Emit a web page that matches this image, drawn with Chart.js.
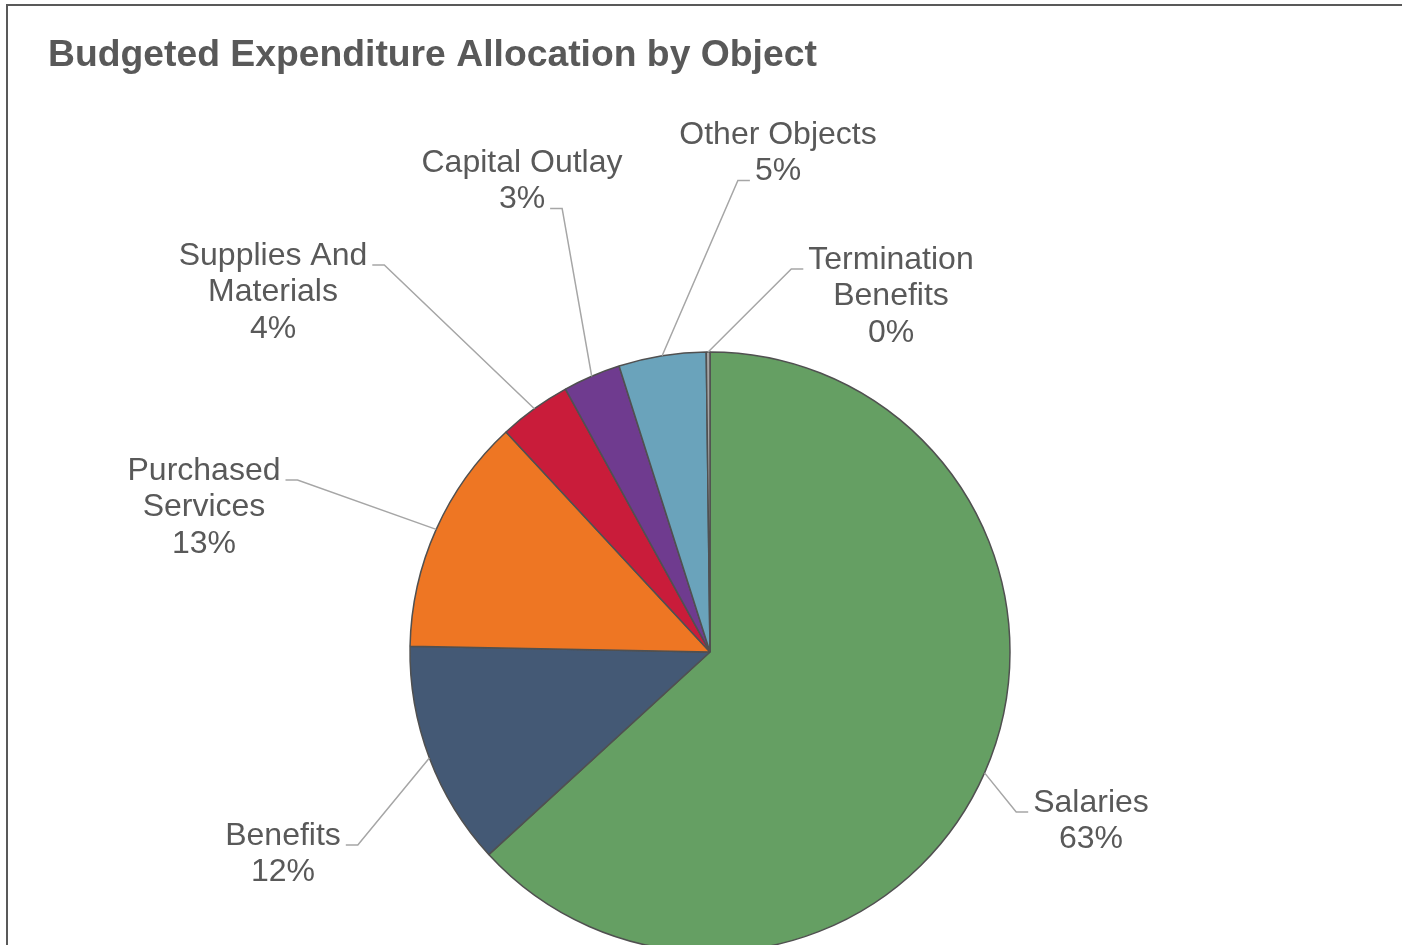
<!DOCTYPE html>
<html>
<head>
<meta charset="utf-8">
<title>Budgeted Expenditure Allocation by Object</title>
<script src="https://cdn.jsdelivr.net/npm/chart.js@4.4.0/dist/chart.umd.min.js"></script>
<style>
  html, body { margin: 0; padding: 0; overflow: hidden; background: #fff; }
  #frame { position: absolute; left: 6px; top: 4px; width: 1500px; height: 1100px; border: 2px solid #595959; box-sizing: border-box; }
  #wrap { position: absolute; left: 0; top: 0; width: 1402px; height: 960px; }
</style>
</head>
<body>
<div id="frame"></div>
<div id="wrap"><canvas id="pieChart"></canvas></div>
<script>
// Budget shares by object (percent of total)
const categories = [
  'Salaries', 'Benefits', 'Purchased Services', 'Supplies And Materials',
  'Capital Outlay', 'Other Objects', 'Termination Benefits'
];
const shares = [63.2, 12.1, 12.8, 3.9, 3.1, 4.7, 0.2];
const sliceColors = ['#659f63', '#445975', '#ee7623', '#c91c3a', '#6f3b8f', '#6aa3bb', '#a5a5a5'];

// Where each data label sits, relative to the pie centre (text centre x, first baseline y),
// and which text line the leader line attaches to
const labelPlacement = [
  { dx: 381, dy: 160, attach: 0 },
  { dx: -427, dy: 193, attach: 0 },
  { dx: -506, dy: -172, attach: 0 },
  { dx: -437, dy: -387, attach: 0 },
  { dx: -188, dy: -480, attach: 1 },
  { dx: 68, dy: -508, attach: 1 },
  { dx: 181, dy: -383, attach: 0 }
];

const textColor = '#595959';
const labelFont = '32px "Liberation Sans", Arial, sans-serif';
const lineHeight = 36.5;
const wrapWidth = 215;

function wrapText(ctx, text) {
  const words = text.split(' ');
  const lines = [];
  let cur = '';
  words.forEach(w => {
    const test = cur ? cur + ' ' + w : w;
    if (cur && ctx.measureText(test).width > wrapWidth) {
      lines.push(cur);
      cur = w;
    } else {
      cur = test;
    }
  });
  if (cur) lines.push(cur);
  return lines;
}

// Outside labels with leader lines
const outsideLabels = {
  id: 'outsideLabels',
  afterDatasetsDraw(chart) {
    const ctx = chart.ctx;
    const meta = chart.getDatasetMeta(0);
    const values = chart.data.datasets[0].data;
    const total = values.reduce((s, v) => s + v, 0);
    ctx.save();
    ctx.font = labelFont;
    meta.data.forEach((arc, i) => {
      const p = arc.getProps(['x', 'y', 'startAngle', 'endAngle', 'outerRadius'], true);
      const mid = (p.startAngle + p.endAngle) / 2;
      const ex = p.x + Math.cos(mid) * p.outerRadius;
      const ey = p.y + Math.sin(mid) * p.outerRadius;
      const place = labelPlacement[i];
      const cx = p.x + place.dx;
      const by = p.y + place.dy;
      const lines = wrapText(ctx, chart.data.labels[i]);
      lines.push(Math.round(values[i] / total * 100) + '%');

      // leader line
      const row = lines[place.attach];
      const w = ctx.measureText(row).width;
      const ly = by + place.attach * lineHeight;
      const leftSide = cx < ex;
      const near = leftSide ? cx + w / 2 + 5 : cx - w / 2 - 5;
      const elbow = leftSide ? near + 12 : near - 12;
      ctx.strokeStyle = '#a6a6a6';
      ctx.lineWidth = 1.5;
      ctx.beginPath();
      ctx.moveTo(ex, ey);
      ctx.lineTo(elbow, ly);
      ctx.lineTo(near, ly);
      ctx.stroke();

      ctx.fillStyle = textColor;
      ctx.textAlign = 'center';
      ctx.textBaseline = 'alphabetic';
      lines.forEach((t, k) => ctx.fillText(t, cx, by + k * lineHeight));
    });
    ctx.restore();
  }
};

new Chart(document.getElementById('pieChart'), {
  type: 'pie',
  data: {
    labels: categories,
    datasets: [{
      data: shares,
      backgroundColor: sliceColors,
      borderColor: '#505050',
      borderWidth: 1.5
    }]
  },
  options: {
    responsive: true,
    maintainAspectRatio: false,
    animation: false,
    radius: 300,
    layout: { padding: { left: 48, right: 30, top: 0, bottom: 8 } },
    plugins: {
      legend: { display: false },
      tooltip: { enabled: false },
      title: {
        display: true,
        text: 'Budgeted Expenditure Allocation by Object',
        align: 'start',
        color: textColor,
        font: { family: '"Liberation Sans", Arial, sans-serif', size: 37.3, weight: 'bold' },
        padding: { top: 33, bottom: 274.2 }
      }
    }
  },
  plugins: [outsideLabels]
});
</script>
</body>
</html>
